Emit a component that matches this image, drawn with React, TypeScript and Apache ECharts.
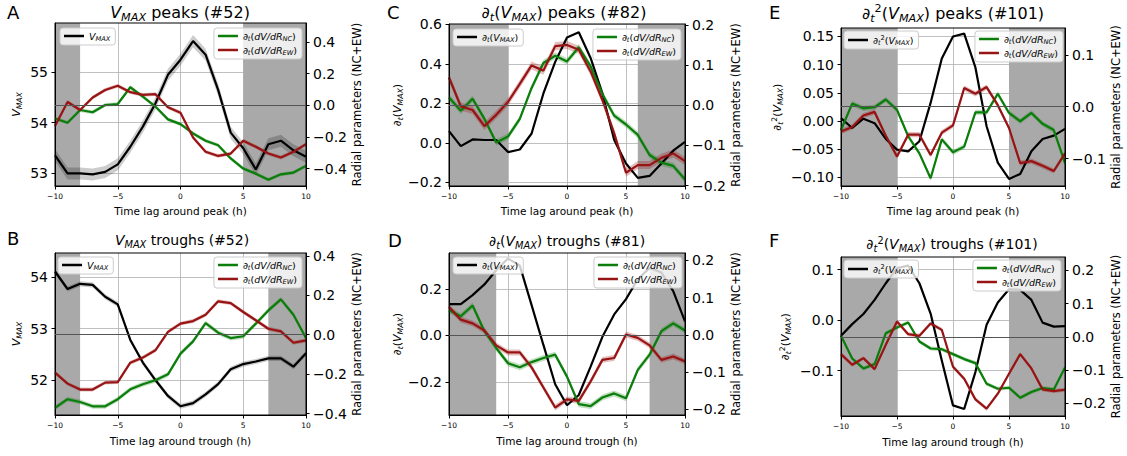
import React, { useEffect, useRef } from 'react';
import * as echarts from 'echarts';

const FF = "'DejaVu Sans', Verdana, sans-serif";

const LAGS = [-10, -9, -8, -7, -6, -5, -4, -3, -2, -1, 0, 1, 2, 3, 4, 5, 6, 7, 8, 9, 10];
const X_TICKS = [-10, -5, 0, 5, 10];

// Panel A: VMAX peaks
const A_VMAX = [53.35, 52.99, 52.99, 52.97, 53.02, 53.17, 53.52, 53.92, 54.38, 54.95, 55.25, 55.62, 55.35, 54.65, 53.8, 53.49, 53.07, 53.57, 53.64, 53.45, 53.32];
const A_NC = [-0.083, -0.11, -0.03, -0.044, 0.002, 0.008, 0.114, 0.055, -0.008, -0.089, -0.119, -0.178, -0.224, -0.252, -0.336, -0.4, -0.432, -0.47, -0.436, -0.425, -0.383];
const A_EW = [-0.131, 0.021, -0.03, 0.049, 0.097, 0.123, 0.083, 0.066, 0.07, -0.013, -0.047, -0.203, -0.294, -0.32, -0.305, -0.224, -0.262, -0.305, -0.33, -0.294, -0.245];
const A_ERR = [0.12, 0.012, 0.012];
const A_SHADE = [[-10, -8], [5, 10]];

// Panel B: VMAX troughs
const B_VMAX = [54.11, 53.77, 53.87, 53.85, 53.62, 53.47, 52.78, 52.34, 52.0, 51.69, 51.49, 51.55, 51.72, 51.92, 52.21, 52.31, 52.36, 52.42, 52.42, 52.26, 52.52];
const B_NC = [-0.371, -0.327, -0.341, -0.363, -0.363, -0.327, -0.277, -0.251, -0.231, -0.201, -0.096, -0.034, 0.059, 0.01, -0.017, -0.008, 0.056, 0.123, 0.179, 0.101, -0.017];
const B_EW = [-0.192, -0.248, -0.278, -0.278, -0.243, -0.24, -0.142, -0.116, -0.079, 0.014, 0.056, 0.069, 0.101, 0.169, 0.16, 0.115, 0.073, 0.03, 0.017, -0.041, -0.029];
const B_ERR = [0.05, 0.012, 0.01];
const B_SHADE = [[-10, -8], [7, 10]];

// Panel C: d/dt VMAX peaks
const C_DV = [0.059, -0.017, 0.017, 0.014, 0.014, -0.047, -0.034, 0.047, 0.25, 0.41, 0.534, 0.56, 0.43, 0.25, 0.014, -0.105, -0.178, -0.168, -0.105, -0.04, 0.005];
const C_NC = [0.019, -0.014, 0.016, -0.034, -0.093, -0.078, -0.034, 0.043, 0.105, 0.123, 0.109, 0.144, 0.097, 0.028, -0.026, -0.048, -0.074, -0.124, -0.143, -0.151, -0.185];
const C_EW = [0.069, -0.003, -0.012, -0.052, -0.024, 0.008, 0.053, 0.099, 0.086, 0.147, 0.15, 0.138, 0.084, 0.013, -0.07, -0.168, -0.149, -0.149, -0.131, -0.12, -0.139];
const C_ERR = [0, 0.008, 0.01];
const C_SHADE = [[-10, -5], [6, 10]];

// Panel D: d/dt VMAX troughs
const D_DV = [0.134, 0.134, 0.173, 0.219, 0.28, 0.33, 0.3, 0.13, -0.041, -0.21, -0.3, -0.256, -0.134, -0.006, 0.09, 0.156, 0.241, 0.29, 0.27, 0.19, 0.06];
const D_NC = [0.066, 0.05, 0.079, 0.01, -0.035, -0.076, -0.087, -0.073, -0.062, -0.053, -0.112, -0.186, -0.191, -0.168, -0.157, -0.17, -0.094, -0.053, 0.01, 0.031, 0.012];
const D_EW = [0.075, 0.041, 0.031, 0.012, -0.028, -0.047, -0.047, -0.087, -0.141, -0.195, -0.173, -0.177, -0.125, -0.067, -0.062, 0.001, -0.008, -0.028, -0.067, -0.058, -0.071];
const D_ERR = [0, 0.008, 0.008];
const D_SHADE = [[-10, -6], [7, 10]];

// Panel E: d2/dt2 VMAX peaks
const E_D2V = [0.005, -0.0125, 0.004, -0.004, -0.032, -0.051, -0.054, -0.036, 0.032, 0.111, 0.15, 0.155, 0.095, -0.0095, -0.074, -0.103, -0.094, -0.054, -0.032, -0.026, -0.014];
const E_NC = [-0.045, 0.006, -0.003, -0.001, 0.014, -0.006, -0.057, -0.09, -0.138, -0.063, -0.088, -0.077, -0.011, -0.011, 0.025, -0.012, -0.028, -0.012, -0.033, -0.045, -0.109];
const E_EW = [-0.048, -0.039, -0.017, -0.01, -0.056, -0.096, -0.054, -0.054, -0.093, -0.05, -0.036, 0.036, 0.025, 0.038, 0.003, -0.041, -0.109, -0.105, -0.114, -0.124, -0.09];
const E_ERR = [0, 0.005, 0.005];
const E_SHADE = [[-10, -5], [5, 10]];

// Panel F: d2/dt2 VMAX troughs
const F_D2V = [-0.031, -0.008, 0.012, 0.04, 0.073, 0.103, 0.108, 0.073, 0.013, -0.08, -0.169, -0.176, -0.103, -0.009, 0.035, 0.061, 0.06, 0.04, -0.005, -0.013, -0.012];
const F_NC = [0.003, -0.065, -0.095, -0.082, 0.011, 0.028, 0.043, -0.014, -0.035, -0.037, -0.052, -0.067, -0.079, -0.141, -0.156, -0.153, -0.183, -0.166, -0.154, -0.158, -0.092];
const F_EW = [-0.052, -0.084, -0.064, -0.097, -0.024, 0.046, 0.008, 0.003, 0.04, 0.021, -0.09, -0.126, -0.188, -0.216, -0.171, -0.111, -0.052, -0.095, -0.158, -0.163, -0.159];
const F_ERR = [0, 0.006, 0.006];
const F_SHADE = [[-10, -5], [5, 10]];

// Axis ranges and tick values
const A_LEFT = { min: 52.74, max: 55.98, ticks: [53, 54, 55], dec: 0 };
const A_RIGHT = { min: -0.51, max: 0.52, ticks: [-0.4, -0.2, 0, 0.2, 0.4], dec: 1 };
const B_LEFT = { min: 51.32, max: 54.47, ticks: [52, 53, 54], dec: 0 };
const B_RIGHT = { min: -0.407, max: 0.414, ticks: [-0.4, -0.2, 0, 0.2, 0.4], dec: 1 };
const C_LEFT = { min: -0.219, max: 0.602, ticks: [-0.2, 0, 0.2, 0.4, 0.6], dec: 1 };
const C_RIGHT = { min: -0.201, max: 0.202, ticks: [-0.2, -0.1, 0, 0.1, 0.2], dec: 1 };
const D_LEFT = { min: -0.342, max: 0.354, ticks: [-0.2, 0, 0.2], dec: 1 };
const D_RIGHT = { min: -0.215, max: 0.22, ticks: [-0.2, -0.1, 0, 0.1, 0.2], dec: 1 };
const E_LEFT = { min: -0.1155, max: 0.165, ticks: [-0.1, -0.05, 0, 0.05, 0.1, 0.15], dec: 2 };
const E_RIGHT = { min: -0.153, max: 0.152, ticks: [-0.1, 0, 0.1], dec: 1 };
const F_LEFT = { min: -0.19, max: 0.125, ticks: [-0.1, 0, 0.1], dec: 1 };
const F_RIGHT = { min: -0.238, max: 0.24, ticks: [-0.2, -0.1, 0, 0.1, 0.2], dec: 1 };

const LABELS: Record<string, string> = {
  vmax: '{i|V}{s|MAX}',
  dvmax: '{n|∂}{s|t}{n|(}{i|V}{s|MAX}{n|)}',
  d2vmax: '{n|∂}{s|t}{p|2}{n|(}{i|V}{s|MAX}{n|)}',
  nc: '{n|∂}{s|t}{n|(}{i|dV/dR}{s|NC}{n|)}',
  ew: '{n|∂}{s|t}{n|(}{i|dV/dR}{s|EW}{n|)}',
};

const COLORS = { black: '#000000', nc: '#0a7d0a', ew: '#981414', shade: '#a9a9a9' };
const BAND = { black: 'rgba(0,0,0,0.2)', nc: 'rgba(0,128,0,0.25)', ew: 'rgba(150,0,0,0.25)' };

function rich(F: number) {
  const L = Math.round(F * 1.3);
  const base = { fontFamily: FF, color: '#000', fill: '#000' };
  return {
    n: { ...base, fontSize: F, lineHeight: L },
    i: { ...base, fontSize: F, lineHeight: L, fontStyle: 'italic' },
    s: { ...base, fontSize: F * 0.7, lineHeight: Math.max(1, L - 0.6 * F), verticalAlign: 'bottom', fontStyle: 'italic' },
    p: { ...base, fontSize: F * 0.7, lineHeight: Math.max(1, L - 0.8 * F), verticalAlign: 'top' },
  };
}

const PANELS = [
  {
    letter: 'A', title: LABELS.vmax + '{n| peaks (#52)}', titleSize: 16, xName: 'Time lag around peak (h)',
    key: 'vmax', black: A_VMAX, nc: A_NC, ew: A_EW, err: A_ERR, shade: A_SHADE, left: A_LEFT, right: A_RIGHT,
    lay: { grid: { left: 55, top: 23, width: 251, height: 163 }, tx: 180, ty: 12, lx: 7, ly: 12, lGap: 32, rGap: 45, xGap: 19, legL: { left: 60, top: 28 }, legR: { right: 825, top: 28 } },
  },
  {
    letter: 'B', title: LABELS.vmax + '{n| troughs (#52)}', titleSize: 14, xName: 'Time lag around trough (h)',
    key: 'vmax', black: B_VMAX, nc: B_NC, ew: B_EW, err: B_ERR, shade: B_SHADE, left: B_LEFT, right: B_RIGHT,
    lay: { grid: { left: 55, top: 253, width: 251, height: 162 }, tx: 182, ty: 240, lx: 7, ly: 238, lGap: 32, rGap: 43, xGap: 20, legL: { left: 58, top: 257 }, legR: { right: 825, top: 257 } },
  },
  {
    letter: 'C', title: LABELS.dvmax + '{n| peaks (#82)}', titleSize: 16, xName: 'Time lag around peak (h)',
    key: 'dvmax', black: C_DV, nc: C_NC, ew: C_EW, err: C_ERR, shade: C_SHADE, left: C_LEFT, right: C_RIGHT,
    lay: { grid: { left: 449, top: 24, width: 236, height: 162 }, tx: 564, ty: 12, lx: 387, ly: 12, lGap: 44, rGap: 45, xGap: 19, legL: { left: 453, top: 29 }, legR: { right: 446, top: 29 } },
  },
  {
    letter: 'D', title: LABELS.dvmax + '{n| troughs (#81)}', titleSize: 14, xName: 'Time lag around trough (h)',
    key: 'dvmax', black: D_DV, nc: D_NC, ew: D_EW, err: D_ERR, shade: D_SHADE, left: D_LEFT, right: D_RIGHT,
    lay: { grid: { left: 449, top: 253, width: 236, height: 162 }, tx: 567, ty: 241, lx: 388, ly: 240, lGap: 43, rGap: 44, xGap: 20, legL: { left: 453, top: 257 }, legR: { right: 445, top: 257 } },
  },
  {
    letter: 'E', title: LABELS.d2vmax + '{n| peaks (#101)}', titleSize: 16, xName: 'Time lag around peak (h)',
    key: 'd2vmax', black: E_D2V, nc: E_NC, ew: E_EW, err: E_ERR, shade: E_SHADE, left: E_LEFT, right: E_RIGHT,
    lay: { grid: { left: 841, top: 28, width: 224, height: 158 }, tx: 953, ty: 13, lx: 769, ly: 12, lGap: 57, rGap: 43, xGap: 19, legL: { left: 844, top: 31 }, legR: { right: 64, top: 31 } },
  },
  {
    letter: 'F', title: LABELS.d2vmax + '{n| troughs (#101)}', titleSize: 14, xName: 'Time lag around trough (h)',
    key: 'd2vmax', black: F_D2V, nc: F_NC, ew: F_EW, err: F_ERR, shade: F_SHADE, left: F_LEFT, right: F_RIGHT,
    lay: { grid: { left: 841, top: 257, width: 224, height: 159 }, tx: 952, ty: 244, lx: 769, ly: 240, lGap: 49, rGap: 44, xGap: 20, legL: { left: 844, top: 260 }, legR: { right: 66, top: 260 } },
  },
];

const fmt = (dec: number) => (v: number) => {
  const s = Number(v).toFixed(dec);
  return s.replace('-', '\u2212');
};

function bandRender(color: string) {
  return (params: any, api: any) => {
    if (params.dataIndexInside !== 0) return null;
    const n = params.dataInsideLength;
    const top: number[][] = [];
    const bot: number[][] = [];
    for (let k = 0; k < n; k++) {
      const x = api.value(0, k);
      top.push(api.coord([x, api.value(2, k)]));
      bot.push(api.coord([x, api.value(1, k)]));
    }
    return {
      type: 'polygon',
      shape: { points: top.concat(bot.reverse()) },
      style: { fill: color },
      silent: true,
    };
  };
}

function buildOption() {
  const grid: any[] = [];
  const xAxis: any[] = [];
  const yAxis: any[] = [];
  const series: any[] = [];
  const legend: any[] = [];
  const graphic: any[] = [];

  const legendBase = {
    orient: 'vertical',
    icon: 'rect',
    itemWidth: 20,
    itemHeight: 2.5,
    itemGap: 3,
    selectedMode: false,
    backgroundColor: 'rgba(255,255,255,0.8)',
    borderColor: '#cccccc',
    borderWidth: 1,
    borderRadius: 3,
    padding: [3, 5, 3, 4],
    formatter: (name: string) => LABELS[name] || name,
    textStyle: { fontSize: 9.5, fontFamily: FF, rich: rich(9.5) },
  };

  PANELS.forEach((p, i) => {
    const L = p.lay;
    grid.push({
      ...L.grid,
      containLabel: false,
      outerBoundsMode: 'none',
      show: true,
      z: 3,
      backgroundColor: 'transparent',
      borderColor: '#000',
      borderWidth: 1,
    });
    xAxis.push({
      type: 'value',
      gridIndex: i,
      min: -10,
      max: 10,
      interval: 5,
      z: 1,
      name: p.xName,
      nameLocation: 'middle',
      nameGap: L.xGap,
      nameTextStyle: { fontSize: 10.5, fontFamily: FF, color: '#000' },
      axisLine: { show: true, onZero: false, lineStyle: { color: '#000', width: 1 } },
      axisTick: { show: true, length: 3.5, lineStyle: { color: '#000' } },
      axisLabel: { fontSize: 7.5, margin: 6, color: '#000', fontFamily: FF, formatter: fmt(0), customValues: X_TICKS },
      splitLine: { show: true, lineStyle: { color: '#b0b0b0', width: 0.8 } },
    });
    const yl = p.left;
    yAxis.push({
      type: 'value',
      gridIndex: i,
      position: 'left',
      min: yl.min,
      max: yl.max,
      z: 1,
      name: LABELS[p.key],
      nameLocation: 'middle',
      nameRotate: 90,
      nameGap: L.lGap,
      nameTextStyle: { fontSize: 11, fontFamily: FF, color: '#000', rich: rich(11) },
      axisLine: { show: true, onZero: false, lineStyle: { color: '#000', width: 1 } },
      axisTick: { show: true, length: 3.5, lineStyle: { color: '#000' }, customValues: yl.ticks },
      axisLabel: { fontSize: 14, margin: 7, color: '#000', fontFamily: FF, formatter: fmt(yl.dec), customValues: yl.ticks },
      splitLine: { show: true, lineStyle: { color: '#b0b0b0', width: 0.8 } },
    });
    const yr = p.right;
    yAxis.push({
      type: 'value',
      gridIndex: i,
      position: 'right',
      min: yr.min,
      max: yr.max,
      z: 1,
      name: 'Radial parameters (NC+EW)',
      nameLocation: 'middle',
      nameRotate: 90,
      nameGap: L.rGap,
      nameTextStyle: { fontSize: 11.5, fontFamily: FF, color: '#000' },
      axisLine: { show: true, onZero: false, lineStyle: { color: '#000', width: 1 } },
      axisTick: { show: true, length: 3.5, lineStyle: { color: '#000' }, customValues: yr.ticks },
      axisLabel: { fontSize: 14, margin: 7, color: '#000', fontFamily: FF, formatter: fmt(yr.dec), customValues: yr.ticks },
      splitLine: { show: false },
    });

    const yL = 2 * i;
    const yR = 2 * i + 1;

    // shaded intervals
    series.push({
      type: 'line',
      xAxisIndex: i,
      yAxisIndex: yL,
      data: [],
      z: 0,
      silent: true,
      markArea: {
        silent: true,
        itemStyle: { color: COLORS.shade, opacity: 1 },
        data: p.shade.map(([a, b]) => [{ xAxis: a }, { xAxis: b }]),
      },
    });

    const bandSeries = (vals: number[], err: number, yIdx: number, color: string) => {
      if (!err) return;
      series.push({
        type: 'custom',
        xAxisIndex: i,
        yAxisIndex: yIdx,
        z: 2,
        clip: true,
        silent: true,
        encode: { x: 0, y: [1, 2] },
        data: LAGS.map((x, k) => [x, vals[k] - err, vals[k] + err]),
        renderItem: bandRender(color),
      });
    };
    bandSeries(p.black, p.err[0], yL, BAND.black);

    series.push({
      type: 'line',
      name: p.key,
      xAxisIndex: i,
      yAxisIndex: yL,
      z: 2,
      symbol: 'none',
      color: COLORS.black,
      lineStyle: { color: COLORS.black, width: 2.2 },
      data: LAGS.map((x, k) => [x, p.black[k]]),
    });

    bandSeries(p.nc, p.err[1], yR, BAND.nc);
    bandSeries(p.ew, p.err[2], yR, BAND.ew);

    series.push({
      type: 'line',
      name: 'nc',
      xAxisIndex: i,
      yAxisIndex: yR,
      z: 2,
      symbol: 'none',
      color: COLORS.nc,
      lineStyle: { color: COLORS.nc, width: 2.2 },
      data: LAGS.map((x, k) => [x, p.nc[k]]),
      markLine: {
        silent: true,
        symbol: ['none', 'none'],
        label: { show: false },
        lineStyle: { color: '#555555', width: 1, type: 'solid' },
        data: [{ yAxis: 0 }],
      },
    });
    series.push({
      type: 'line',
      name: 'ew',
      xAxisIndex: i,
      yAxisIndex: yR,
      z: 2,
      symbol: 'none',
      color: COLORS.ew,
      lineStyle: { color: COLORS.ew, width: 2.2 },
      data: LAGS.map((x, k) => [x, p.ew[k]]),
    });

    legend.push({ ...legendBase, ...L.legL, data: [p.key], z: 6 });
    legend.push({ ...legendBase, ...L.legR, data: ['nc', 'ew'], z: 6 });

    graphic.push({
      type: 'text',
      x: L.tx,
      y: L.ty,
      z: 10,
      style: {
        text: p.title,
        rich: rich(p.titleSize),
        fontFamily: FF,
        fontSize: p.titleSize,
        fill: '#000',
        align: 'center',
        verticalAlign: 'middle',
      },
    });
    graphic.push({
      type: 'text',
      x: L.lx,
      y: L.ly,
      z: 10,
      style: {
        text: p.letter,
        fontFamily: FF,
        fontSize: 18,
        fill: '#000',
        align: 'left',
        verticalAlign: 'middle',
      },
    });
  });

  return {
    animation: false,
    backgroundColor: '#ffffff',
    textStyle: { fontFamily: FF },
    grid,
    xAxis,
    yAxis,
    series,
    legend,
    graphic,
  };
}

export default function App() {
  const ref = useRef<HTMLDivElement>(null);
  useEffect(() => {
    if (!ref.current) return;
    const chart = echarts.init(ref.current, null, { renderer: 'svg' });
    chart.setOption(buildOption() as any);
    return () => chart.dispose();
  }, []);
  return (
    <div
      ref={ref}
      style={{ position: 'absolute', left: 0, top: 0, width: 1127, height: 456, background: '#fff' }}
    />
  );
}
